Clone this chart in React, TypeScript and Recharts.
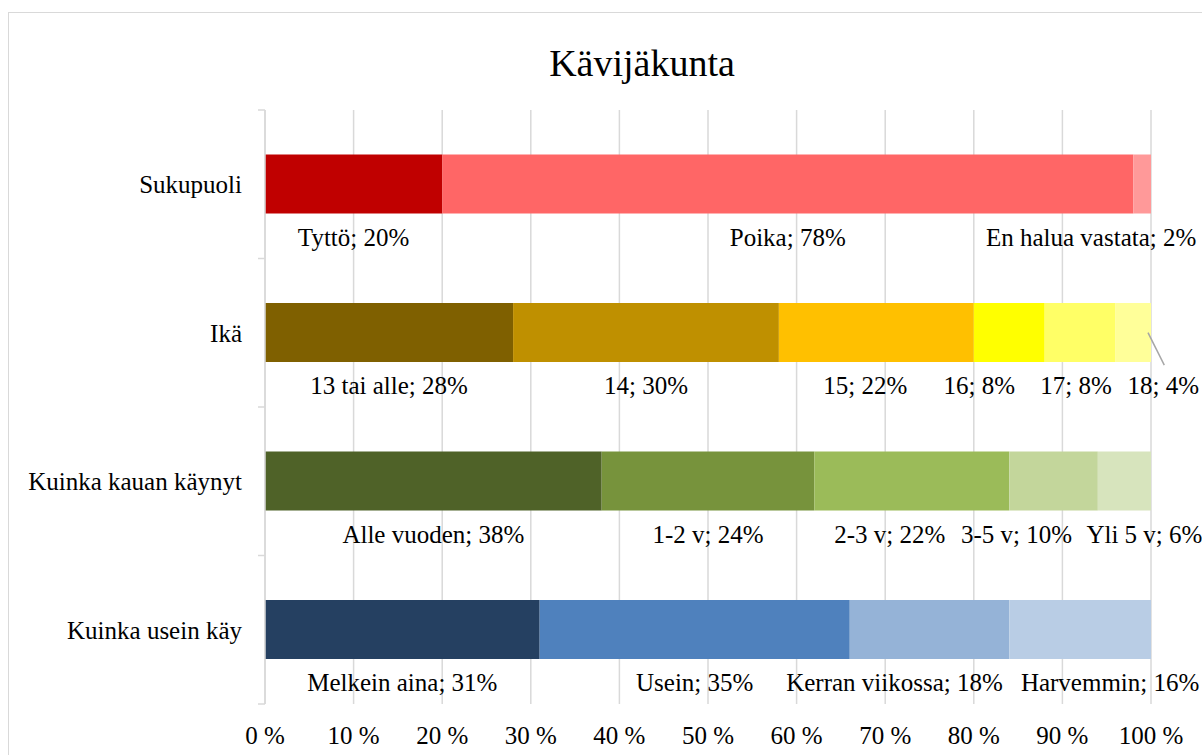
import { BarChart, Bar, XAxis, YAxis, CartesianGrid, Cell, LabelList } from "recharts";

const categories = ["Sukupuoli", "Ikä", "Kuinka kauan käynyt", "Kuinka usein käy"];

const sukupuoliNames = ["Tyttö", "Poika", "En halua vastata"];
const sukupuoliValues = [20, 78, 2];

const ikaNames = ["13 tai alle", "14", "15", "16", "17", "18"];
const ikaValues = [28, 30, 22, 8, 8, 4];

const kauanNames = ["Alle vuoden", "1-2 v", "2-3 v", "3-5 v", "Yli 5 v"];
const kauanValues = [38, 24, 22, 10, 6];

const useinNames = ["Melkein aina", "Usein", "Kerran viikossa", "Harvemmin"];
const useinValues = [31, 35, 18, 16];

const xTicks = [0, 10, 20, 30, 40, 50, 60, 70, 80, 90, 100];

const rowNames = [sukupuoliNames, ikaNames, kauanNames, useinNames];
const rowValues = [sukupuoliValues, ikaValues, kauanValues, useinValues];

// colours per row, per segment
const rowColors = [
  ["#C00000", "#FF6666", "#FF9999"],
  ["#7F6000", "#BF9000", "#FFC000", "#FFFF00", "#FFFF66", "#FFFF99"],
  ["#4F6228", "#77933C", "#9BBB59", "#C3D69B", "#D7E4BD"],
  ["#254061", "#4F81BD", "#95B3D7", "#B9CDE5"],
];

// label nudges (px) so labels do not overlap, like Excel does
const labelShift = [
  [0, 0, -51],
  [0, 0, -11, -30, -4, 30],
  [0, 0, -22, -37, 20],
  [0, 0, -35, 30],
];
const leaderLines = ["1-5"];

const FONT = "'Liberation Serif', 'Times New Roman', serif";
const SEGMENTS = 6;

const data = categories.map((name, r) => {
  const row: Record<string, string | number> = { name, row: r };
  for (let i = 0; i < SEGMENTS; i++) row[`s${i}`] = rowValues[r][i] ?? 0;
  return row;
});

function makeLabel(seg: number) {
  return (props: any) => {
    const { x, y, width, height, value } = props;
    const [rs, vs] = String(value).split("|");
    const r = Number(rs);
    const v = Number(vs);
    if (!v) return null;
    const cx = Number(x) + Number(width) / 2 + labelShift[r][seg];
    const base = Number(y) + Number(height) + 32;
    const leader = leaderLines.includes(`${r}-${seg}`);
    return (
      <g>
        {leader && (
          <line
            x1={Number(x) + Number(width) - 3}
            y1={Number(y) + Number(height) / 2}
            x2={cx + 1}
            y2={base - 29}
            stroke="#a6a6a6"
            strokeWidth={1.5}
          />
        )}
        <text x={cx} y={base} textAnchor="middle" fontFamily={FONT} fontSize={25} fill="#000">
          {`${rowNames[r][seg]}; ${v}%`}
        </text>
      </g>
    );
  };
}

// category tick: label plus small tick marks on the band boundaries
function CategoryTick(props: any) {
  const { x, y, payload, index } = props;
  const half = Number(payload?.offset) || 0;
  const axisX = Number(x) + 23;
  const isLast = index === categories.length - 1;
  return (
    <g>
      {half > 0 && (
        <line x1={axisX - 7} x2={axisX} y1={y - half} y2={y - half} stroke="#d9d9d9" strokeWidth={1.5} />
      )}
      {half > 0 && isLast && (
        <line x1={axisX - 7} x2={axisX} y1={y + half} y2={y + half} stroke="#d9d9d9" strokeWidth={1.5} />
      )}
      <text x={x} y={y} dy="0.355em" textAnchor="end" fontFamily={FONT} fontSize={25} fill="#000">
        {payload.value}
      </text>
    </g>
  );
}

export default function App() {
  return (
    <div style={{ position: "absolute", left: 0, top: 0, width: 1202, height: 755, overflow: "hidden", background: "#fff" }}>
      <div
        style={{
          position: "absolute", left: 8, top: 12, width: 1250, height: 800,
          border: "1.5px solid #d9d9d9", boxSizing: "border-box",
        }}
      />
      <div
        style={{
          position: "absolute", left: 442, top: 44, width: 400, textAlign: "center",
          fontFamily: FONT, fontSize: 38, lineHeight: "38px", color: "#000",
        }}
      >
        Kävijäkunta
      </div>
      <div style={{ position: "absolute", left: 0, top: 0 }}>
        <BarChart
          width={1202}
          height={755}
          data={data}
          layout="vertical"
          margin={{ top: 110, right: 51, left: 0, bottom: 0 }}
          barCategoryGap="30%"
        >
          <CartesianGrid horizontal={false} stroke="#d9d9d9" strokeWidth={1.5} />
          <XAxis
            type="number"
            domain={[0, 100]}
            ticks={xTicks}
            tickFormatter={(v) => `${v} %`}
            axisLine={false}
            tickLine={false}
            tickSize={0}
            tickMargin={22}
            height={51}
            interval={0}
            tick={{ fontFamily: FONT, fontSize: 25, fill: "#000" }}
          />
          <YAxis
            type="category"
            dataKey="name"
            width={265}
            axisLine={{ stroke: "#d9d9d9", strokeWidth: 1.5 }}
            tickLine={false}
            tickSize={0}
            tickMargin={23}
            interval={0}
            tick={<CategoryTick />}
          />
          {Array.from({ length: SEGMENTS }, (_, i) => (
            <Bar key={i} dataKey={`s${i}`} stackId="a" isAnimationActive={false}>
              {categories.map((c, r) => (
                <Cell key={c} fill={rowColors[r][i] ?? "#ffffff"} />
              ))}
              <LabelList
                dataKey={(entry: any) => `${entry.row}|${entry[`s${i}`]}`}
                content={makeLabel(i)}
              />
            </Bar>
          ))}
        </BarChart>
      </div>
    </div>
  );
}
